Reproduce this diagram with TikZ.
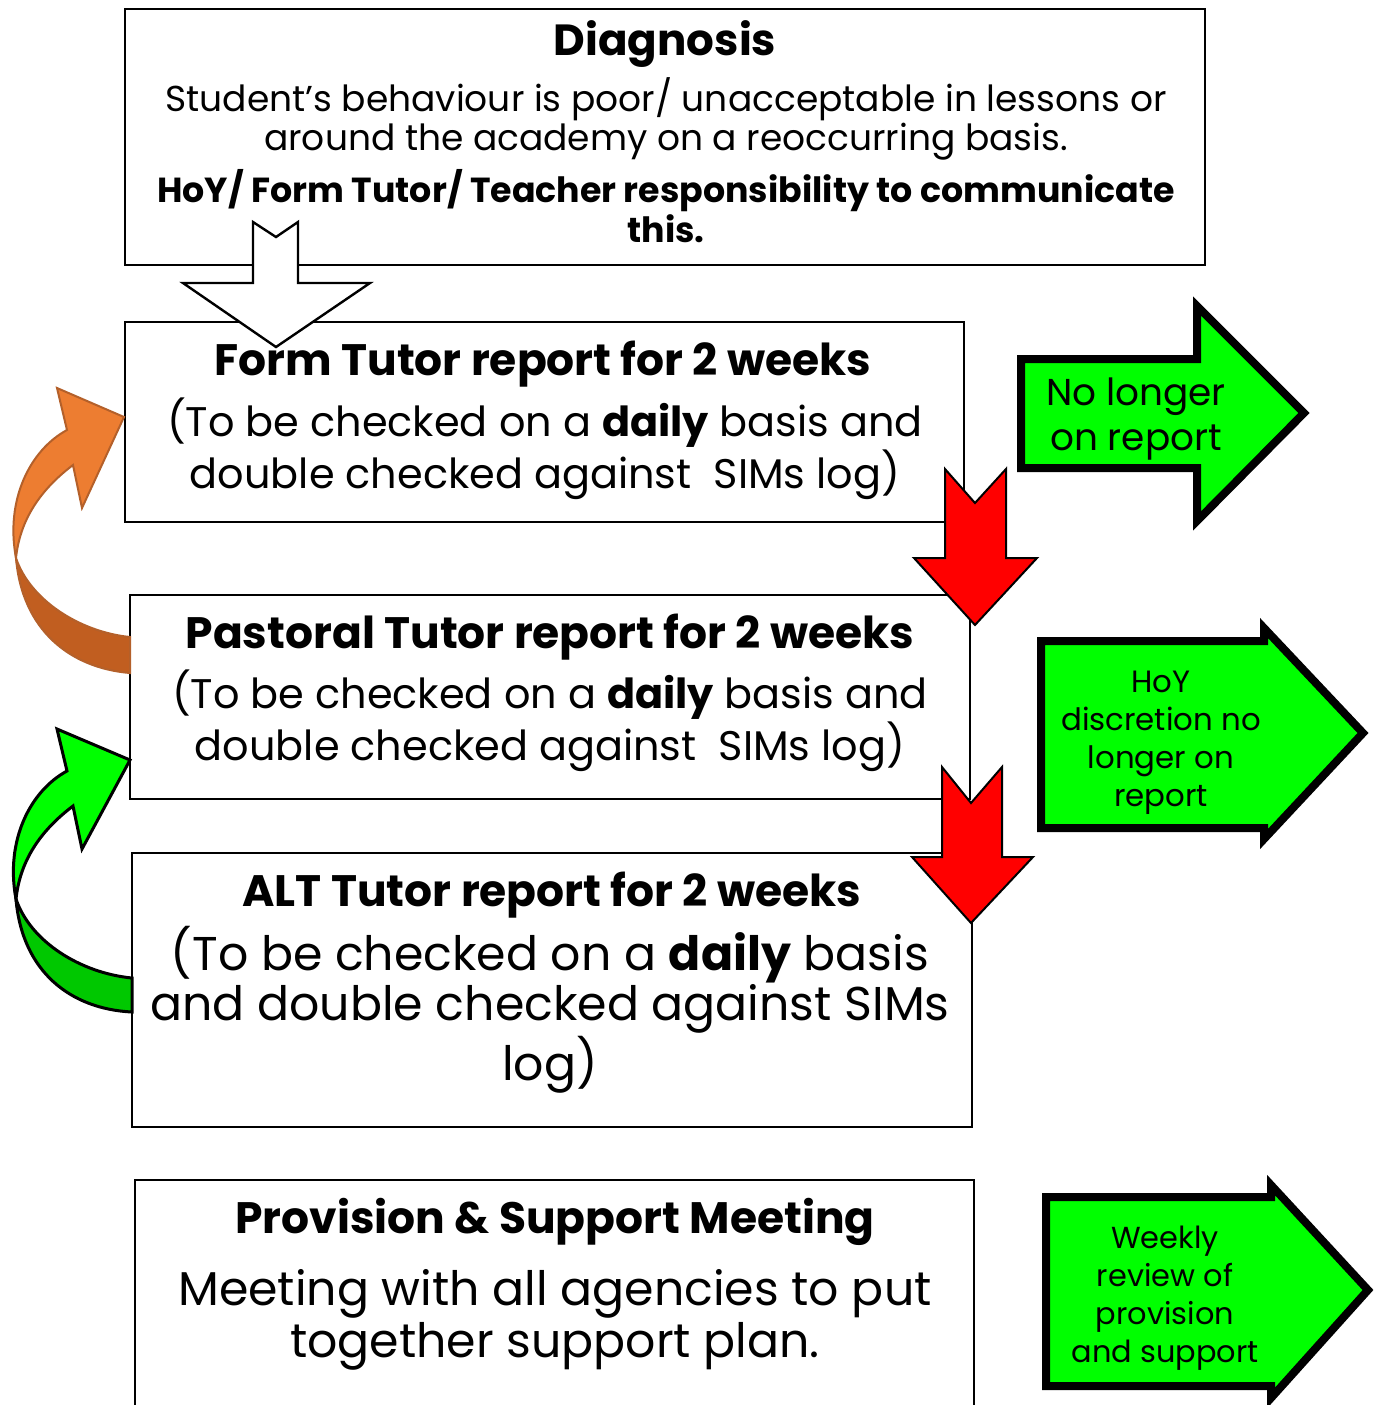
\documentclass[tikz,border=0pt]{standalone}
\usepackage{fontspec}
\setmainfont{Poppins}
\definecolor{limegreen}{RGB}{0,255,0}
\definecolor{darkgreen}{RGB}{0,200,0}
\definecolor{stopred}{RGB}{255,0,0}
\definecolor{orangelight}{RGB}{237,125,49}
\definecolor{orangedark}{RGB}{193,94,32}
\definecolor{orangeedge}{RGB}{180,96,42}
\tikzset{
  reportbox/.style={draw, line width=1.2pt, inner sep=0pt},
  boxtitle/.style={anchor=base, align=center, inner sep=0pt, font=\bfseries},
  boxtext/.style={anchor=base, align=center, inner sep=0pt},
  downarrow/.style={draw, line width=1pt, fill=stopred},
  outarrow/.style={draw, line width=4pt, fill=limegreen},
}
\begin{document}
\begin{tikzpicture}[x=0.5pt, y=-0.5pt]
    \useasboundingbox[fill=white] (0,0) rectangle (1377,1405);

    % report boxes
    \node[reportbox, minimum width=540pt, minimum height=128pt] (diag) at (665,137) {};
    \node[reportbox, minimum width=419.5pt, minimum height=100pt] (form) at (544.5,422) {};
    \node[reportbox, minimum width=420pt, minimum height=102pt] (past) at (550,697) {};
    \node[reportbox, minimum width=420pt, minimum height=137pt] (alt) at (552,990) {};
    \draw[line width=1.2pt] (135,1440) |- (974,1180) -- (974,1440);

    % texts in the boxes (base = last line)
    \node[boxtitle, font=\bfseries\fontsize{21.8}{22}\selectfont] (diagtitle) at (665,55) {Diagnosis};
    \node[boxtext, font=\fontsize{18}{17.5}\selectfont] (diagtext) at (666,150)
        {Student’s behaviour is poor/ unacceptable in lessons or\\around the academy on a reoccurring basis.};
    \node[boxtitle, font=\bfseries\fontsize{17.4}{17.5}\selectfont] (diagwho) at (666,242)
        {HoY/ Form Tutor/ Teacher responsibility to communicate\\this.};

    \node[boxtitle, font=\bfseries\fontsize{22}{22}\selectfont] (formtitle) at (543,375) {Form Tutor report for 2 weeks};
    \node[boxtext, font=\fontsize{20.7}{22.5}\selectfont] (formtext) at (545,488)
        {(To be checked on a \textbf{daily} basis and\\double checked against\ \ SIMs log)};

    \node[boxtitle, font=\bfseries\fontsize{22}{22}\selectfont] (pasttitle) at (550,648) {Pastoral Tutor report for 2 weeks};
    \node[boxtext, font=\fontsize{20.7}{22.5}\selectfont] (pasttext) at (550,760)
        {(To be checked on a \textbf{daily} basis and\\double checked against\ \ SIMs log)};

    \node[boxtitle, font=\bfseries\fontsize{22}{22}\selectfont] (alttitle) at (552,906) {ALT Tutor report for 2 weeks};
    \node[boxtext, font=\fontsize{23.7}{25}\selectfont] (alttext) at (550,1080)
        {(To be checked on a \textbf{daily} basis\\and double checked against SIMs\\log)};

    \node[boxtitle, font=\bfseries\fontsize{22}{22}\selectfont] (provtitle) at (555,1233) {Provision \& Support Meeting};
    \node[boxtext, font=\fontsize{23.7}{26}\selectfont] (provtext) at (555,1357)
        {Meeting with all agencies to put\\together support plan.};

    % white arrow from the diagnosis
    \draw[line width=1.2pt, fill=white] (253,222) -- (276,237) -- (298,222) -- (298,283) -- (370,283)
        -- (276,347) -- (183,283) -- (253,283) -- cycle;

    % red arrows down
    \draw[downarrow] (945,469) -- (975,503) -- (1006,469) -- (1006,558) -- (1037,558)
        -- (975,625) -- (914,558) -- (945,558) -- cycle;
    \draw[downarrow] (942,767) -- (971,803) -- (1002,767) -- (1002,857) -- (1033,857)
        -- (971,923) -- (912,857) -- (942,857) -- cycle;

    % green arrows out
    \draw[outarrow] (1021,359) -- (1197,359) -- (1197,306) -- (1304,413) -- (1197,521)
        -- (1197,468) -- (1021,468) -- cycle;
    \draw[outarrow] (1041,641) -- (1264,641) -- (1264,628) -- (1363,733) -- (1264,839)
        -- (1264,828) -- (1041,828) -- cycle;
    \draw[outarrow] (1046,1197) -- (1271,1197) -- (1271,1185) -- (1368,1290) -- (1271,1398)
        -- (1271,1386) -- (1046,1386) -- cycle;
    \node[boxtext, font=\fontsize{18.7}{22.5}\selectfont] (offreport) at (1136,450) {No longer\\on report};
    \node[boxtext, font=\fontsize{15.4}{19}\selectfont] (hoyoff) at (1161,806) {HoY\\discretion no\\longer on\\report};
    \node[boxtext, font=\fontsize{15.2}{19}\selectfont] (weekly) at (1165,1362) {Weekly\\review of\\provision\\and support};

    % curved arrows back up
    \draw[orangeedge, line width=1pt, fill=orangedark] (16,558) .. controls (22,630) and (70,668) .. (130,673)
        -- (130,637) .. controls (80,632) and (30,600) .. (16,558) -- cycle;
    \draw[orangeedge, line width=1pt, fill=orangelight] (16,558) .. controls (5,500) and (30,450) .. (67,430)
        -- (57,388) -- (124,417) -- (82,508) -- (73,465) .. controls (40,490) and (20,520) .. (16,558) -- cycle;
    \begin{scope}[yshift=-170.5pt]
    \draw[line width=1.5pt, fill=darkgreen] (16,558) .. controls (22,630) and (70,668) .. (132,671)
        -- (132,637) .. controls (80,632) and (30,600) .. (16,558) -- cycle;
    \draw[line width=1.5pt, fill=limegreen] (16,558) .. controls (5,500) and (30,450) .. (67,430)
        -- (57,388) -- (130,419) -- (82,508) -- (73,465) .. controls (40,490) and (20,520) .. (16,558) -- cycle;
    \end{scope}
\end{tikzpicture}
\end{document}
